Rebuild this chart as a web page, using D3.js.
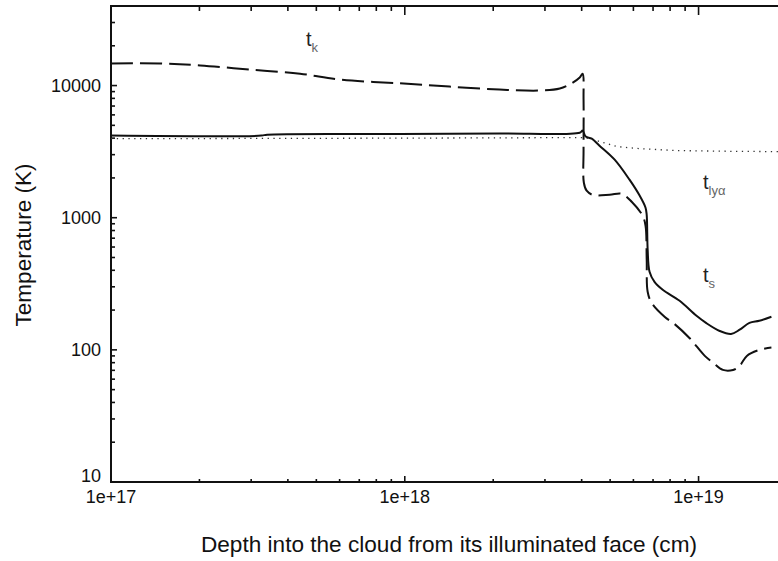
<!DOCTYPE html>
<html>
<head>
<meta charset="utf-8">
<script src="https://cdn.jsdelivr.net/npm/d3@7"></script>
<style>
  html, body { margin: 0; padding: 0; background: #fff; }
  svg { display: block; font-family: "Liberation Sans", Arial, sans-serif; }
</style>
</head>
<body>
<svg id="chart" width="778" height="561"></svg>
<script>
// Kinetic temperature t_k (dashed)
const depthK = [1e17, 1.47e17, 2.01e17, 2.97e17, 4.4e17, 6.0e17, 9.6e17, 1.42e18, 2.1e18, 2.88e18,
  3.37e18, 3.70e18, 3.94e18, 4.03e18, 4.06e18, 4.06e18, 4.07e18, 4.16e18, 4.36e18, 4.98e18,
  5.47e18, 5.92e18, 6.45e18, 6.6e18, 6.66e18, 6.71e18, 6.92e18, 7.66e18, 8.28e18, 9.31e18,
  1.05e19, 1.12e19, 1.21e19, 1.31e19, 1.38e19, 1.46e19, 1.61e19, 1.77e19];
const tempK = [14700, 14700, 14200, 13200, 12300, 11100, 10400, 9820, 9330, 9170,
  9490, 10400, 11500, 12300, 7830, 3270, 1840, 1600, 1490, 1490,
  1520, 1320, 1035, 869, 481, 275, 227, 178, 157, 123,
  90, 80, 70.5, 70.5, 75.7, 90, 100, 104];

// Spin temperature t_s (solid)
const depthS = [1e17, 3.25e17, 3.4e17, 9.6e17, 2.1e18, 3.94e18, 4.03e18, 4.13e18, 4.33e18, 4.6e18,
  5.18e18, 5.82e18, 6.3e18, 6.6e18, 6.66e18, 6.71e18, 6.81e18, 7.08e18, 7.55e18, 8.62e18,
  9.84e18, 1.06e19, 1.18e19, 1.29e19, 1.38e19, 1.49e19, 1.61e19, 1.77e19];
const tempS = [4180, 4180, 4250, 4300, 4330, 4400, 4560, 4110, 3960, 3510,
  2750, 1940, 1470, 1190, 1050, 573, 390, 327, 285, 235,
  181, 160, 139, 132, 142, 160, 166, 178];

// Lyman-alpha colour temperature t_lyα (dotted)
const depthLya = [1e17, 1e18, 4.0e18, 4.3e18, 4.6e18, 5.3e18, 6.3e18, 8.5e18, 1.3e19, 2e19];
const tempLya = [3960, 4000, 4040, 3960, 3770, 3450, 3330, 3220, 3180, 3160];

const xMajor = [1e17, 1e18, 1e19];
const xTickLabels = ["1e+17", "1e+18", "1e+19"];
const yMajor = [10, 100, 1000, 10000];
const yTickLabels = ["10", "100", "1000", "10000"];

(function draw() {
  const svg = d3.select("#chart");
  const mLeft = 111, mTop = 6, mBottom = 482, mRight = 787;

  const x = d3.scaleLog().domain([1e17, 2e19]).range([mLeft, mRight]);
  const y = d3.scaleLog().domain([10, 40000]).range([mBottom, mTop]);

  // minor tick values (2..9 per decade)
  const xMinor = [];
  [1e17, 1e18, 1e19].forEach(d => { for (let k = 2; k <= 9; k++) if (d * k <= 2e19) xMinor.push(d * k); });
  const yMinor = [];
  [10, 100, 1000, 10000].forEach(d => { for (let k = 2; k <= 9; k++) if (d * k < 40000) yMinor.push(d * k); });

  const axisStroke = "#111";

  // frame lines
  svg.append("line").attr("x1", mLeft).attr("x2", 778).attr("y1", mBottom).attr("y2", mBottom)
    .attr("stroke", axisStroke).attr("stroke-width", 2);
  svg.append("line").attr("x1", mLeft).attr("x2", 778).attr("y1", mTop).attr("y2", mTop)
    .attr("stroke", axisStroke).attr("stroke-width", 2);
  svg.append("line").attr("x1", mLeft).attr("x2", mLeft).attr("y1", mTop - 1).attr("y2", mBottom + 1)
    .attr("stroke", axisStroke).attr("stroke-width", 2);

  const ticks = svg.append("g").attr("stroke", axisStroke).attr("stroke-width", 1.6);
  // bottom ticks (inward)
  xMajor.forEach(v => ticks.append("line").attr("x1", x(v)).attr("x2", x(v)).attr("y1", mBottom).attr("y2", mBottom - 6));
  xMinor.forEach(v => ticks.append("line").attr("x1", x(v)).attr("x2", x(v)).attr("y1", mBottom).attr("y2", mBottom - 3));
  // top ticks (inward)
  xMajor.forEach(v => ticks.append("line").attr("x1", x(v)).attr("x2", x(v)).attr("y1", mTop).attr("y2", mTop + 9));
  xMinor.forEach(v => ticks.append("line").attr("x1", x(v)).attr("x2", x(v)).attr("y1", mTop).attr("y2", mTop + 5));
  // left ticks (inward)
  yMajor.forEach(v => ticks.append("line").attr("x1", mLeft).attr("x2", mLeft + 6).attr("y1", y(v)).attr("y2", y(v)));
  yMinor.forEach(v => ticks.append("line").attr("x1", mLeft).attr("x2", mLeft + 4).attr("y1", y(v)).attr("y2", y(v)));

  // tick labels
  const labelColor = "#111";
  xMajor.forEach((v, i) => svg.append("text").attr("x", x(v)).attr("y", mBottom + 21)
    .attr("text-anchor", "middle").attr("font-size", 18).attr("fill", labelColor).text(xTickLabels[i]));
  // the lowest label sits on the axis line so it clears the first depth label
  yMajor.forEach((v, i) => svg.append("text").attr("x", mLeft - 10)
    .attr("y", i === 0 ? y(v) : y(v) + 6.5)
    .attr("text-anchor", "end").attr("font-size", 18).attr("fill", labelColor).text(yTickLabels[i]));

  // axis titles
  svg.append("text").attr("x", 449).attr("y", 552).attr("text-anchor", "middle")
    .attr("font-size", 22.6).attr("fill", labelColor)
    .text("Depth into the cloud from its illuminated face (cm)");
  svg.append("text").attr("transform", "translate(31,245) rotate(-90)").attr("text-anchor", "middle")
    .attr("font-size", 22.6).attr("fill", labelColor).text("Temperature (K)");

  // curves
  const line = d3.line().x(d => x(d[0])).y(d => y(d[1]));
  const smooth = d3.line().x(d => x(d[0])).y(d => y(d[1])).curve(d3.curveCatmullRom.alpha(0.5));
  const zip = (a, b) => a.map((v, i) => [v, b[i]]);

  svg.append("path").datum(zip(depthLya, tempLya)).attr("d", line)
    .attr("fill", "none").attr("stroke", "#333").attr("stroke-width", 1.3)
    .attr("stroke-dasharray", "1.3,4.5");
  svg.append("path").datum(zip(depthS, tempS)).attr("d", smooth)
    .attr("fill", "none").attr("stroke", "#111").attr("stroke-width", 2)
    .attr("stroke-linejoin", "round");
  svg.append("path").datum(zip(depthK, tempK)).attr("d", smooth)
    .attr("fill", "none").attr("stroke", "#111").attr("stroke-width", 2)
    .attr("stroke-dasharray", "22,7");

  // curve labels
  function curveLabel(px, py, sub) {
    const t = svg.append("text").attr("x", px).attr("y", py).attr("font-size", 20).attr("fill", "#222");
    t.append("tspan").text("t");
    t.append("tspan").attr("dy", 6).attr("font-size", 13).attr("fill", "#666").text(sub);
  }
  curveLabel(306, 46, "k");
  curveLabel(703, 189, "lyα");
  curveLabel(703, 282, "s");
})();
</script>
</body>
</html>
